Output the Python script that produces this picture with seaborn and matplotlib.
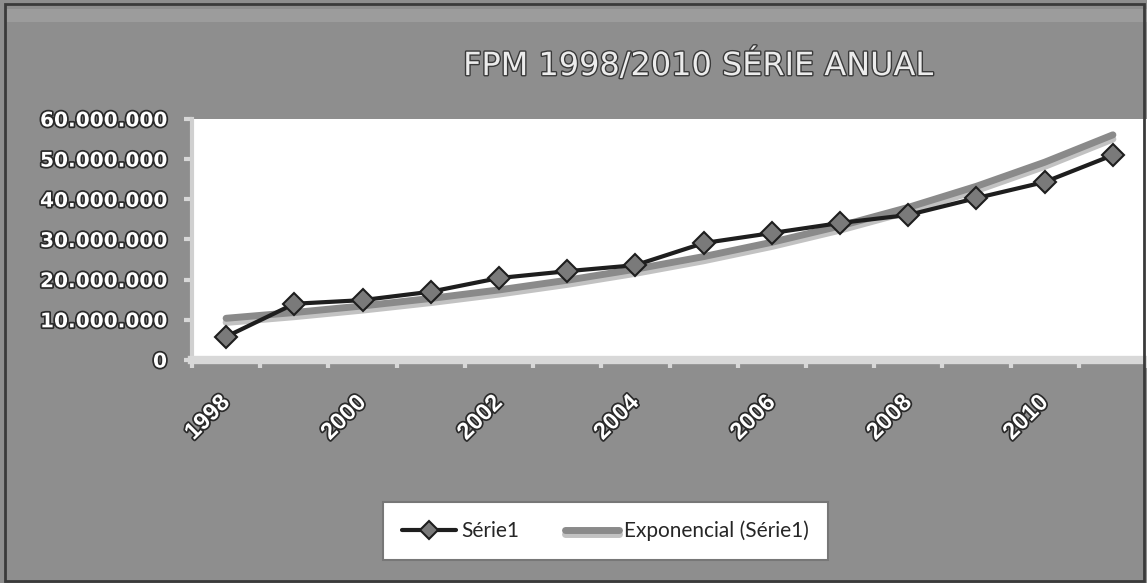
import numpy as np
import pandas as pd
import seaborn as sns
import matplotlib.pyplot as plt
import matplotlib.patheffects as pe
from matplotlib.patches import Rectangle

# Data (values in reais)
years = list(range(1998, 2012))
valores = [5.8e6, 14.0e6, 14.9e6, 17.0e6, 20.4e6, 22.1e6, 23.6e6,
           29.1e6, 31.6e6, 34.1e6, 36.1e6, 40.3e6, 44.3e6, 51.0e6]
year_labels = ["1998", "2000", "2002", "2004", "2006", "2008", "2010"]
y_ticks = [0, 10e6, 20e6, 30e6, 40e6, 50e6, 60e6]

BG = "#8e8e8e"

sns.set_theme(style="white")
plt.rcParams['font.family'] = ['DejaVu Sans']

df = pd.DataFrame({"pos": np.arange(len(years)), "valor": valores})

# Exponential trendline, same as Excel's (least squares on log values)
b, log_a = np.polyfit(df["pos"], np.log(df["valor"]), 1)
df["trend"] = np.exp(log_a + b * df["pos"])

fig = plt.figure(figsize=(11.47, 5.83), dpi=100, facecolor=BG)
ax = fig.add_axes([0.1674, 0.3825, 0.8326, 0.4135])
ax.set_facecolor("white")

# subtle bevel at the top of the chart frame + dark outer border
fig.patches.append(Rectangle((0.005, 0.962), 0.995, 0.022, transform=fig.transFigure,
                             facecolor="#9c9c9c", edgecolor="none", zorder=0))
fig.patches.append(Rectangle((0.004, 0.004), 0.993, 0.989, transform=fig.transFigure,
                             facecolor="none", edgecolor="#3a3a3a", linewidth=2, zorder=5))

shadow = [pe.SimpleLineShadow(offset=(0, -3), shadow_color="#9a9a9a", alpha=0.6), pe.Normal()]
sns.lineplot(data=df, x="pos", y="trend", ax=ax, color="#8a8a8a", linewidth=5,
             label="Exponencial (Série1)", path_effects=shadow, zorder=2)
sns.lineplot(data=df, x="pos", y="valor", ax=ax, color="#1e1e1e", linewidth=3,
             marker="D", markersize=11, markerfacecolor="#7a7a7a",
             markeredgecolor="#1e1e1e", markeredgewidth=1.5, label="Série1", zorder=3)

ax.set_xlim(-0.5, len(years) - 0.5)
ax.set_ylim(0, 60e6)
ax.set_xlabel("")
ax.set_ylabel("")

outline = [pe.withStroke(linewidth=2.5, foreground="#2a2a2a")]

ax.set_yticks(y_ticks)
ax.set_yticklabels([f"{v:,.0f}".replace(",", ".") for v in y_ticks],
                   fontsize=14.5, fontweight="bold", color="white")
for t in ax.get_yticklabels():
    t.set_path_effects(outline)
ax.tick_params(axis="y", length=6, width=3, color="#d8d8d8", pad=12, left=True)

# category boundaries carry the tick marks, labels sit at the centres
ax.set_xticks(np.arange(-0.5, len(years) + 0.5, 1))
ax.set_xticklabels([])
ax.tick_params(axis="x", which="major", length=6, width=3, color="#d8d8d8", bottom=True)
ax.set_xticks(df["pos"][::2], year_labels, minor=True)
ax.tick_params(axis="x", which="minor", length=0, pad=28)
for t in ax.get_xticklabels(minor=True):
    t.set_rotation(45)
    t.set_ha("right")
    t.set_va("center")
    t.set_rotation_mode("anchor")
    t.set_fontsize(17)
    t.set_fontweight("bold")
    t.set_color("white")
    t.set_family(["Liberation Sans", "DejaVu Sans"])
    t.set_path_effects(outline)

for side in ["top", "right"]:
    ax.spines[side].set_visible(False)
ax.spines["left"].set_color("#d0d0d0")
ax.spines["left"].set_linewidth(3)
ax.spines["bottom"].set_color("#d8d8d8")
ax.spines["bottom"].set_linewidth(6)

fig.text(0.609, 0.888, "FPM 1998/2010 SÉRIE ANUAL", ha="center", va="center",
         fontsize=23, color="#ececec",
         path_effects=[pe.withStroke(linewidth=2, foreground="#3a3a3a")])

handles, labels = ax.get_legend_handles_labels()
ax.get_legend().remove()
leg = fig.legend(handles[::-1], labels[::-1], loc="center", bbox_to_anchor=(0.528, 0.089),
                 ncol=2, frameon=True, fancybox=False, facecolor="white", edgecolor="#777777",
                 framealpha=1, markerscale=0.8,
                 prop={"family": ["Lato", "DejaVu Sans"], "size": 15},
                 handlelength=2.6, handletextpad=0.25, columnspacing=2.2,
                 borderpad=0.9)
leg.get_frame().set_linewidth(1.5)

fig.savefig("out.png", dpi=100, facecolor=BG)
